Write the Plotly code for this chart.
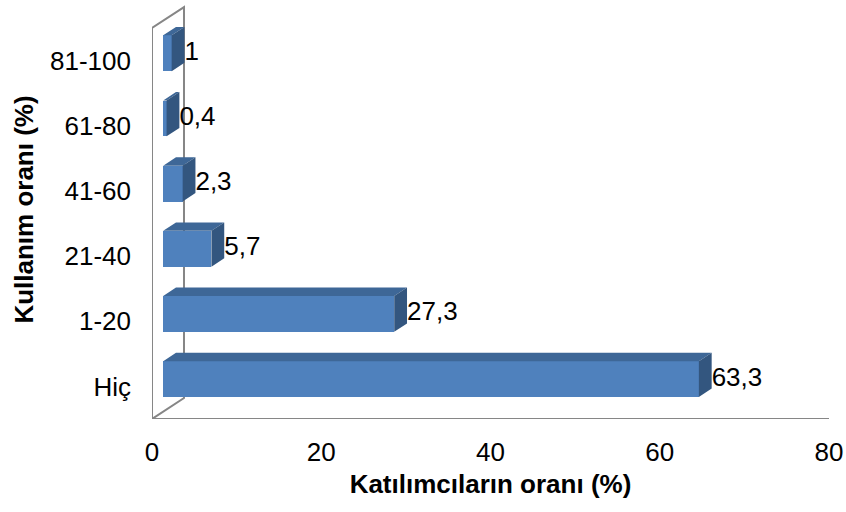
import plotly.graph_objects as go

# Usage share groups (%) and the share of participants in each group (%)
categories = ["Hiç", "1-20", "21-40", "41-60", "61-80", "81-100"]
values = [63.3, 27.3, 5.7, 2.3, 0.4, 1]
x_ticks = [0, 20, 40, 60, 80]

# Oblique projection used to fake the 3-D look (depth vector in data units)
DEPTH_X = 3.78
DEPTH_Y = 0.322
FRONT = 0.35   # depth position of the bar front face
BACK = 0.75    # depth position of the bar back face
BAR_W = 0.55

FACE = "#4F81BD"
TOP = "#3E6797"
SIDE = "#33567F"
FRAME = "#868686"
FONT = "Liberation Sans, Arial, sans-serif"
TXT = 26

X_MIN, X_MAX = 0, 80
Y_MIN, Y_MAX = -0.5, len(categories) - 0.5
Y_TOP = Y_MAX + 0.43

fx = FRONT * DEPTH_X
fy = FRONT * DEPTH_Y
ddx = (BACK - FRONT) * DEPTH_X
ddy = (BACK - FRONT) * DEPTH_Y

fig = go.Figure()

# front faces
fig.add_trace(go.Bar(
    orientation="h",
    y=[i + fy for i in range(len(categories))],
    x=values,
    base=fx,
    width=BAR_W,
    marker=dict(color=FACE, line=dict(width=0)),
    hoverinfo="skip",
))

# top and side faces
top_x, top_y, side_x, side_y = [], [], [], []
for i, v in enumerate(values):
    x0, x1 = fx, v + fx
    yb, yt = i + fy - BAR_W / 2, i + fy + BAR_W / 2
    top_x += [x0, x1, x1 + ddx, x0 + ddx, x0, None]
    top_y += [yt, yt, yt + ddy, yt + ddy, yt, None]
    side_x += [x1, x1, x1 + ddx, x1 + ddx, x1, None]
    side_y += [yb, yt, yt + ddy, yb + ddy, yb, None]

fig.add_trace(go.Scatter(x=top_x, y=top_y, mode="lines", fill="toself",
                         fillcolor=TOP, line=dict(width=0, color=TOP),
                         hoverinfo="skip"))
fig.add_trace(go.Scatter(x=side_x, y=side_y, mode="lines", fill="toself",
                         fillcolor=SIDE, line=dict(width=0, color=SIDE),
                         hoverinfo="skip"))

# value labels
fig.add_trace(go.Scatter(
    x=[v + BACK * DEPTH_X for v in values],
    y=[i + fy for i in range(len(categories))],
    mode="text",
    text=[f"{v:g}".replace(".", ",") for v in values],
    textposition="middle right",
    textfont=dict(family=FONT, size=TXT, color="#000000"),
    cliponaxis=False,
    hoverinfo="skip",
))

# floor front edge and left wall of the chart box
fig.add_shape(type="line", x0=X_MIN, y0=Y_MIN, x1=X_MAX, y1=Y_MIN,
              xref="x", yref="y", layer="below",
              line=dict(color=FRAME, width=2))
fig.add_shape(type="path",
              path=(f"M {X_MIN},{Y_MIN} L {X_MIN},{Y_MAX} "
                    f"L {X_MIN + DEPTH_X},{Y_MAX + DEPTH_Y} "
                    f"L {X_MIN + DEPTH_X},{Y_MIN + DEPTH_Y} Z"),
              xref="x", yref="y", layer="below",
              line=dict(color=FRAME, width=2))

fig.update_layout(
    width=846, height=512,
    margin=dict(l=152, r=17, t=0, b=93),
    paper_bgcolor="white", plot_bgcolor="white",
    showlegend=False,
    bargap=0,
    font=dict(family=FONT, color="#000000"),
    xaxis=dict(
        range=[X_MIN, X_MAX], tickvals=x_ticks, ticks="",
        showgrid=False, zeroline=False, showline=False,
        tickfont=dict(size=TXT), ticklabelstandoff=15,
        title=dict(text="Katılımcıların oranı (%)",
                   font=dict(size=TXT, weight="bold"), standoff=8),
    ),
    yaxis=dict(
        range=[Y_MIN, Y_TOP], tickvals=list(range(len(categories))),
        ticktext=categories, ticks="",
        showgrid=False, zeroline=False, showline=False,
        tickfont=dict(size=TXT), ticklabelstandoff=20,
        title=dict(text="Kullanım oranı (%)",
                   font=dict(size=TXT, weight="bold"), standoff=8),
    ),
)

fig.write_html("out.html")
